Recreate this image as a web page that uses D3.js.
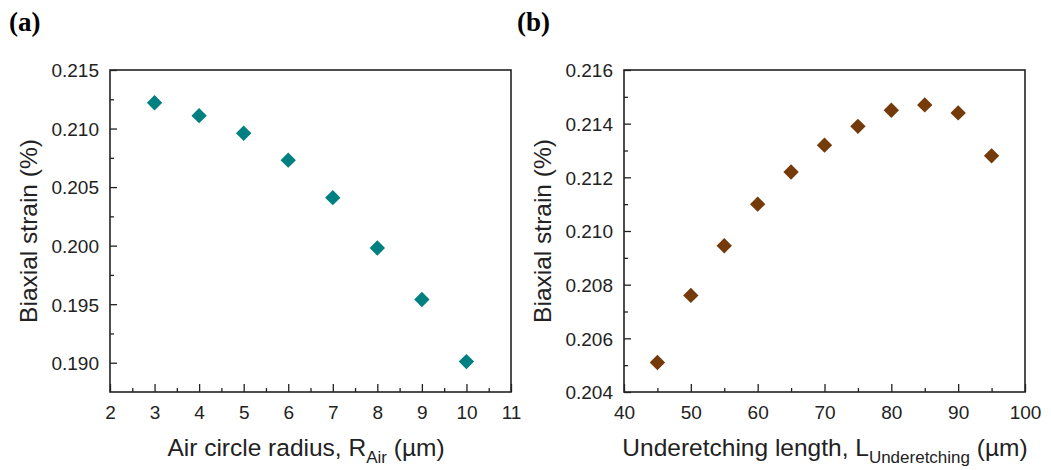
<!DOCTYPE html>
<svg width="1051" height="470"></svg>
<style>
  body { margin: 0; background: #fff; }
  svg { display: block; font-family: "Liberation Sans", Arial, sans-serif; }
  .tick text { font-size: 19px; fill: #222; }
</style>
<script src="https://d3js.org/d3.v7.min.js"></script>
<script>

// panel (a): strain vs air circle radius
var radius = [3, 4, 5, 6, 7, 8, 9, 10];
var strainA = [0.2122, 0.2111, 0.2096, 0.2073, 0.2041, 0.1998, 0.1954, 0.1901];
var ticksA_x = [2, 3, 4, 5, 6, 7, 8, 9, 10, 11];
var ticksA_y = [0.190, 0.195, 0.200, 0.205, 0.210, 0.215];

// panel (b): strain vs underetching length
var underLen = [45, 50, 55, 60, 65, 70, 75, 80, 85, 90, 95];
var strainB = [0.2051, 0.2076, 0.20945, 0.2110, 0.2122, 0.2132, 0.2139, 0.2145, 0.2147, 0.2144, 0.2128];
var ticksB_x = [40, 50, 60, 70, 80, 90, 100];
var ticksB_y = [0.204, 0.206, 0.208, 0.210, 0.212, 0.214, 0.216];

var svg = d3.select("svg");
var top_ = 70, bottom = 392;

function panel(opt) {
  var x = d3.scaleLinear().domain(opt.xdom).range([opt.left, opt.right]);
  var y = d3.scaleLinear().domain(opt.ydom).range([bottom, top_]);
  var g = svg.append("g");

  function tickStyle(s) {
    s.select(".domain").remove();
    s.selectAll("line").attr("stroke", "#222").attr("stroke-width", 1.3);
  }

  // minor ticks
  g.append("g")
      .attr("transform", "translate(0," + bottom + ")")
      .call(d3.axisBottom(x).tickValues(opt.xminor).tickSize(-4).tickFormat(""))
      .call(tickStyle);
  g.append("g")
      .attr("transform", "translate(" + opt.left + ",0)")
      .call(d3.axisLeft(y).tickValues(opt.yminor).tickSize(-4).tickFormat(""))
      .call(tickStyle);

  // major ticks
  g.append("g")
      .attr("transform", "translate(0," + bottom + ")")
      .call(d3.axisBottom(x).tickValues(opt.xticks).tickSize(-8).tickPadding(14).tickFormat(d3.format("d")))
      .call(tickStyle);
  g.append("g")
      .attr("transform", "translate(" + opt.left + ",0)")
      .call(d3.axisLeft(y).tickValues(opt.yticks).tickSize(-7).tickPadding(11).tickFormat(d3.format(".3f")))
      .call(tickStyle)
      .call(function(s) { s.selectAll("text").attr("dy", "0.36em"); });

  // frame
  g.append("rect")
      .attr("x", opt.left).attr("y", top_)
      .attr("width", opt.right - opt.left).attr("height", bottom - top_)
      .attr("fill", "none").attr("stroke", "#222").attr("stroke-width", 1.6);

  // markers
  var sym = d3.symbol().type(d3.symbolSquare).size(118);
  g.selectAll(".pt")
      .data(opt.xs)
      .enter().append("path")
      .attr("d", sym)
      .attr("fill", opt.color)
      .attr("transform", function(d, i) { return "translate(" + x(d) + "," + y(opt.ys[i]) + ") rotate(45)"; });

  // y title
  g.append("text")
      .attr("transform", "translate(" + opt.ytx + "," + ((top_ + bottom) / 2) + ") rotate(-90)")
      .attr("text-anchor", "middle")
      .style("font-size", "24.5px").style("fill", "#222")
      .text("Biaxial strain (%)");

  // x title with subscript
  var t = g.append("text")
      .attr("x", opt.xtx).attr("y", 456)
      .attr("text-anchor", "middle")
      .style("font-size", "24.5px").style("fill", "#222");
  t.append("tspan").text(opt.xlabel[0]);
  t.append("tspan").attr("dy", 7).style("font-size", "17px").text(opt.xlabel[1]);
  t.append("tspan").attr("dy", -7).text(opt.xlabel[2]);

  // panel label
  svg.append("text")
      .attr("x", opt.labx).attr("y", 31)
      .style("font-family", "'Liberation Serif', 'Times New Roman', serif")
      .style("font-weight", "bold").style("font-size", "27px")
      .text(opt.tag);
}

panel({
  left: 110, right: 511, xdom: [2, 11], ydom: [0.1875, 0.215],
  xticks: ticksA_x, xminor: d3.range(2.5, 11, 1),
  yticks: ticksA_y, yminor: [0.1925, 0.1975, 0.2025, 0.2075, 0.2125],
  xs: radius, ys: strainA, color: "#008080",
  ytx: 37, xtx: 306, xlabel: ["Air circle radius, R", "Air", " (\u00b5m)"],
  labx: 9, tag: "(a)"
});

panel({
  left: 624, right: 1025, xdom: [40, 100], ydom: [0.204, 0.216],
  xticks: ticksB_x, xminor: d3.range(45, 100, 10),
  yticks: ticksB_y, yminor: [0.205, 0.207, 0.209, 0.211, 0.213, 0.215],
  xs: underLen, ys: strainB, color: "#743a0a",
  ytx: 551, xtx: 825, xlabel: ["Underetching length, L", "Underetching", " (\u00b5m)"],
  labx: 517, tag: "(b)"
});

</script>
